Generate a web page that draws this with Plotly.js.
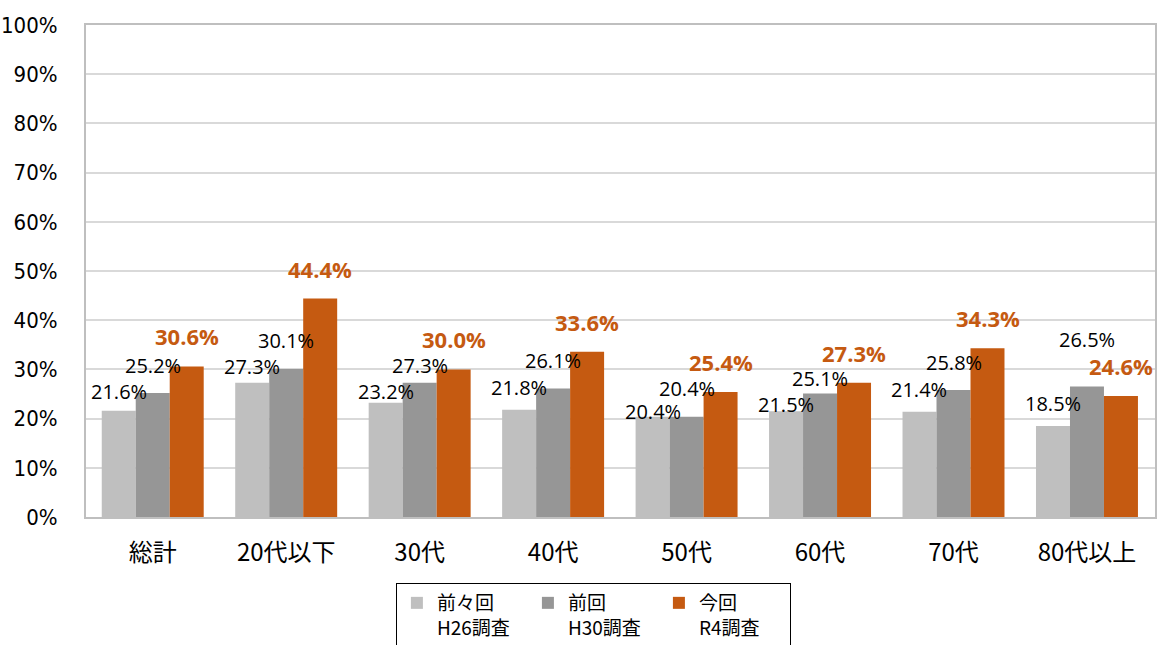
<!DOCTYPE html>
<html><head><meta charset="utf-8">
<script src="https://cdn.plot.ly/plotly-3.0.1.min.js"></script>
<style>html,body{margin:0;padding:0;background:#fff;}#chart{width:1159px;height:645px;}</style>
</head><body><div id="chart"></div>
<script>
const categories = ['総計','20代以下','30代','40代','50代','60代','70代','80代以上'];
const seriesNames = ['前々回<br>H26調査','前回<br>H30調査','今回<br>R4調査'];
const h26 = [21.6, 27.3, 23.2, 21.8, 20.4, 21.5, 21.4, 18.5];
const h30 = [25.2, 30.1, 27.3, 26.1, 20.4, 25.1, 25.8, 26.5];
const r4  = [30.6, 44.4, 30.0, 33.6, 25.4, 27.3, 34.3, 24.6];
const yTicks = [0,10,20,30,40,50,60,70,80,90,100];

const colors = ['#BFBFBF','#969696','#C55A11'];
const series = [h26, h30, r4];
const labelShift = [22, 28, 30];
const W = 1159, H = 645;
const margin = {l:86, r:4, t:25, b:128};
const bargap = 0.236;
const plotW = W - margin.l - margin.r;
const plotH = H - margin.t - margin.b;
const ppu = plotH / 100;
const catW = plotW / categories.length;
const barW = catW * (1 - bargap) / 3;
const SEP = 26, MINSHIFT = 5;

const traces = series.map((vals, i) => ({
  type:'bar', x:categories, y:vals, name:seriesNames[i],
  marker:{color:colors[i]}, hoverinfo:'skip'
}));

// simple label collision avoidance (right to left within each group)
const shifts = series.map((vals, i) => vals.map(() => labelShift[i]));
categories.forEach((c, j) => {
  for (let i = 1; i >= 0; i--) {
    const cr = series[i+1][j]*ppu + shifts[i+1][j];
    let ci = series[i][j]*ppu + shifts[i][j];
    if (Math.abs(ci - cr) < SEP) {
      if (series[i][j] <= series[i+1][j]) {
        ci = cr - SEP;
        if (ci - series[i][j]*ppu < MINSHIFT) ci = series[i][j]*ppu + MINSHIFT;
      } else {
        ci = cr + SEP;
      }
      shifts[i][j] = ci - series[i][j]*ppu;
    }
  }
});

const annotations = [];
series.forEach((vals, i) => {
  vals.forEach((v, j) => {
    const orange = i === 2;
    annotations.push({
      x: categories[j], y: v, xref:'x', yref:'y',
      text: v.toFixed(1) + '%', showarrow:false,
      xshift: (i - 1) * barW, yshift: shifts[i][j],
      font: orange ? {family:'Open Sans, Noto Sans, sans-serif', size:22, color:'#C55A11', weight:700}
                   : {family:'Open Sans, Noto Sans, sans-serif', size:20, color:'#000'}
    });
  });
});

const layout = {
  width:W, height:H, margin:margin,
  paper_bgcolor:'#fff', plot_bgcolor:'#fff',
  barmode:'group', bargap:bargap, bargroupgap:0,
  showlegend:true,
  legend:{orientation:'h', x:0.512, xanchor:'center', xref:'container',
    y:(H-583)/H, yanchor:'top', yref:'container',
    bordercolor:'#000', borderwidth:1, bgcolor:'#fff',
    font:{family:'Noto Sans CJK JP', size:19, color:'#000'},
    entrywidth:86, valign:'top', traceorder:'normal', itemwidth:30},
  xaxis:{tickfont:{family:'Noto Sans CJK JP', size:24, color:'#000'},
    showline:true, linecolor:'#BFBFBF', linewidth:2, mirror:true, ticks:'', fixedrange:true,
    ticklabelstandoff:13},
  yaxis:{range:[0,100], tickvals:yTicks, ticktext:yTicks.map(t=>t+'%'),
    tickfont:{family:'DejaVu Sans Condensed, Liberation Sans Narrow, Liberation Sans, sans-serif', size:22, color:'#000'},
    gridcolor:'#D9D9D9', gridwidth:2, showline:true, linecolor:'#BFBFBF', linewidth:2, mirror:true,
    ticks:'', ticklabelstandoff:22, zeroline:false, fixedrange:true},
  annotations:annotations
};
Plotly.newPlot('chart', traces, layout, {displayModeBar:false, staticPlot:true});
</script></body></html>
